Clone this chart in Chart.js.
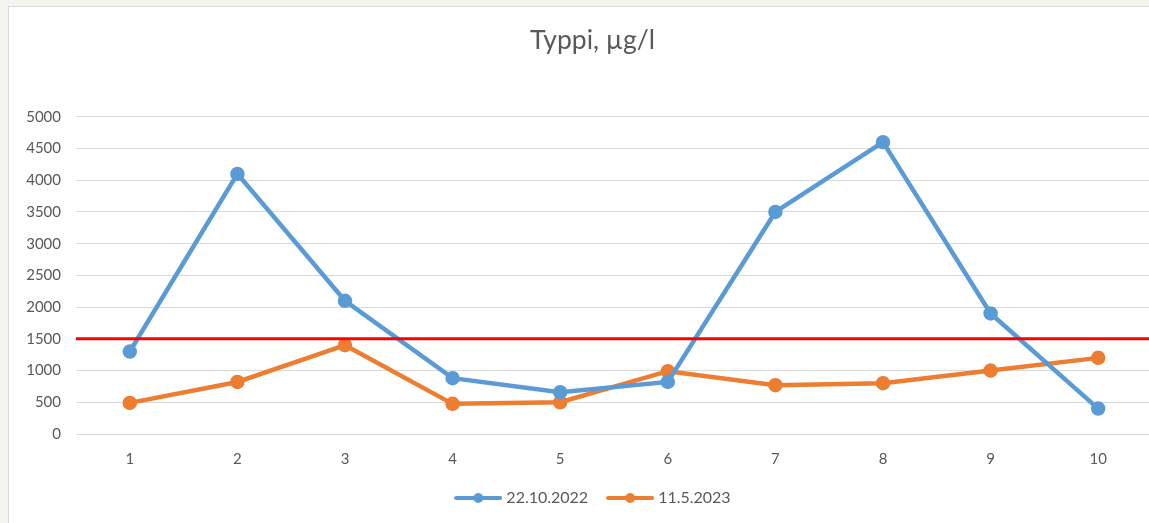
<!DOCTYPE html>
<html>
<head>
<meta charset="utf-8">
<script src="https://cdn.jsdelivr.net/npm/chart.js@4"></script>
<style>
  html, body { margin: 0; padding: 0; background: #f6f4ee; overflow: hidden; }
  #box {
    position: absolute; left: 8px; top: 6px;
    width: 1170px; height: 517px;
    background: #ffffff; border: 1px solid #d9d9d9;
  }
</style>
</head>
<body>
<div id="box"><canvas id="lineChart"></canvas></div>
<script>
const categories = ['1', '2', '3', '4', '5', '6', '7', '8', '9', '10'];
const values2022 = [1300, 4100, 2100, 880, 660, 820, 3500, 4600, 1900, 400];
const values2023 = [490, 820, 1400, 475, 500, 990, 770, 800, 1000, 1200];
const limitValue = 1500;

const blue = '#5b9bd5';
const orange = '#ed7d31';
const textColor = '#595959';

// legend marker: line with a dot in the middle
function legendMarker(color) {
  const c = document.createElement('canvas');
  c.width = 48; c.height = 12;
  const g = c.getContext('2d');
  g.strokeStyle = color;
  g.lineWidth = 4;
  g.lineCap = 'round';
  g.beginPath(); g.moveTo(2, 6); g.lineTo(46, 6); g.stroke();
  g.fillStyle = color;
  g.beginPath(); g.arc(24, 6, 5, 0, Math.PI * 2); g.fill();
  return c;
}
const markers = [legendMarker(blue), legendMarker(orange)];

const limitLine = {
  id: 'limitLine',
  afterDatasetsDraw(chart) {
    const { ctx, chartArea, scales } = chart;
    const y = scales.y.getPixelForValue(limitValue);
    ctx.save();
    ctx.strokeStyle = '#ff0000';
    ctx.lineWidth = 3;
    ctx.beginPath();
    ctx.moveTo(chartArea.left, y);
    ctx.lineTo(chartArea.right + 30, y);
    ctx.stroke();
    ctx.restore();
  }
};

// the excel frame is wider than the plot, so title and legend sit a bit right
const shiftBoxes = {
  id: 'shiftBoxes',
  afterLayout(chart) {
    if (chart.titleBlock) { chart.titleBlock.left += 12; chart.titleBlock.right += 12; }
    if (chart.legend) { chart.legend.left += 14; chart.legend.right += 14; }
  }
};

Chart.defaults.font.family = 'Lato, "Open Sans", sans-serif';
Chart.defaults.color = textColor;

const ctx = document.getElementById('lineChart').getContext('2d');
new Chart(ctx, {
  type: 'line',
  data: {
    labels: categories,
    datasets: [
      {
        label: '22.10.2022',
        data: values2022,
        borderColor: blue,
        backgroundColor: blue,
        borderWidth: 4.5,
        pointRadius: 5,
        pointHoverRadius: 5,
        tension: 0
      },
      {
        label: '11.5.2023',
        data: values2023,
        borderColor: orange,
        backgroundColor: orange,
        borderWidth: 4.5,
        pointRadius: 5,
        pointHoverRadius: 5,
        tension: 0
      }
    ]
  },
  options: {
    responsive: true,
    maintainAspectRatio: false,
    animation: false,
    layout: { padding: { left: 0, right: 27, top: 0, bottom: 8 } },
    plugins: {
      title: {
        display: true,
        text: 'Typpi, µg/l',
        color: textColor,
        font: { size: 26.5, weight: 'normal' },
        padding: { top: 18, bottom: 60 }
      },
      legend: {
        position: 'bottom',
        labels: {
          usePointStyle: true,
          pointStyleWidth: 40,
          padding: 22,
          color: textColor,
          font: { size: 16 },
          generateLabels(chart) {
            const items = Chart.defaults.plugins.legend.labels.generateLabels(chart);
            items.forEach((it, i) => { it.pointStyle = markers[i]; });
            return items;
          }
        }
      },
      tooltip: { enabled: false }
    },
    scales: {
      x: {
        offset: true,
        grid: { display: false, drawTicks: false },
        border: { display: false },
        ticks: { padding: 16, font: { size: 15 }, color: textColor },
        afterFit(scale) { scale.height = 34; }
      },
      y: {
        min: 0,
        max: 5000,
        grid: { color: '#d9d9d9', lineWidth: 1, drawTicks: false },
        border: { display: false },
        ticks: {
          stepSize: 500, padding: 15, font: { size: 15 }, color: textColor,
          callback: v => String(v)
        },
        afterFit(scale) { scale.width = 67; }
      }
    }
  },
  plugins: [limitLine, shiftBoxes]
});
</script>
</body>
</html>
